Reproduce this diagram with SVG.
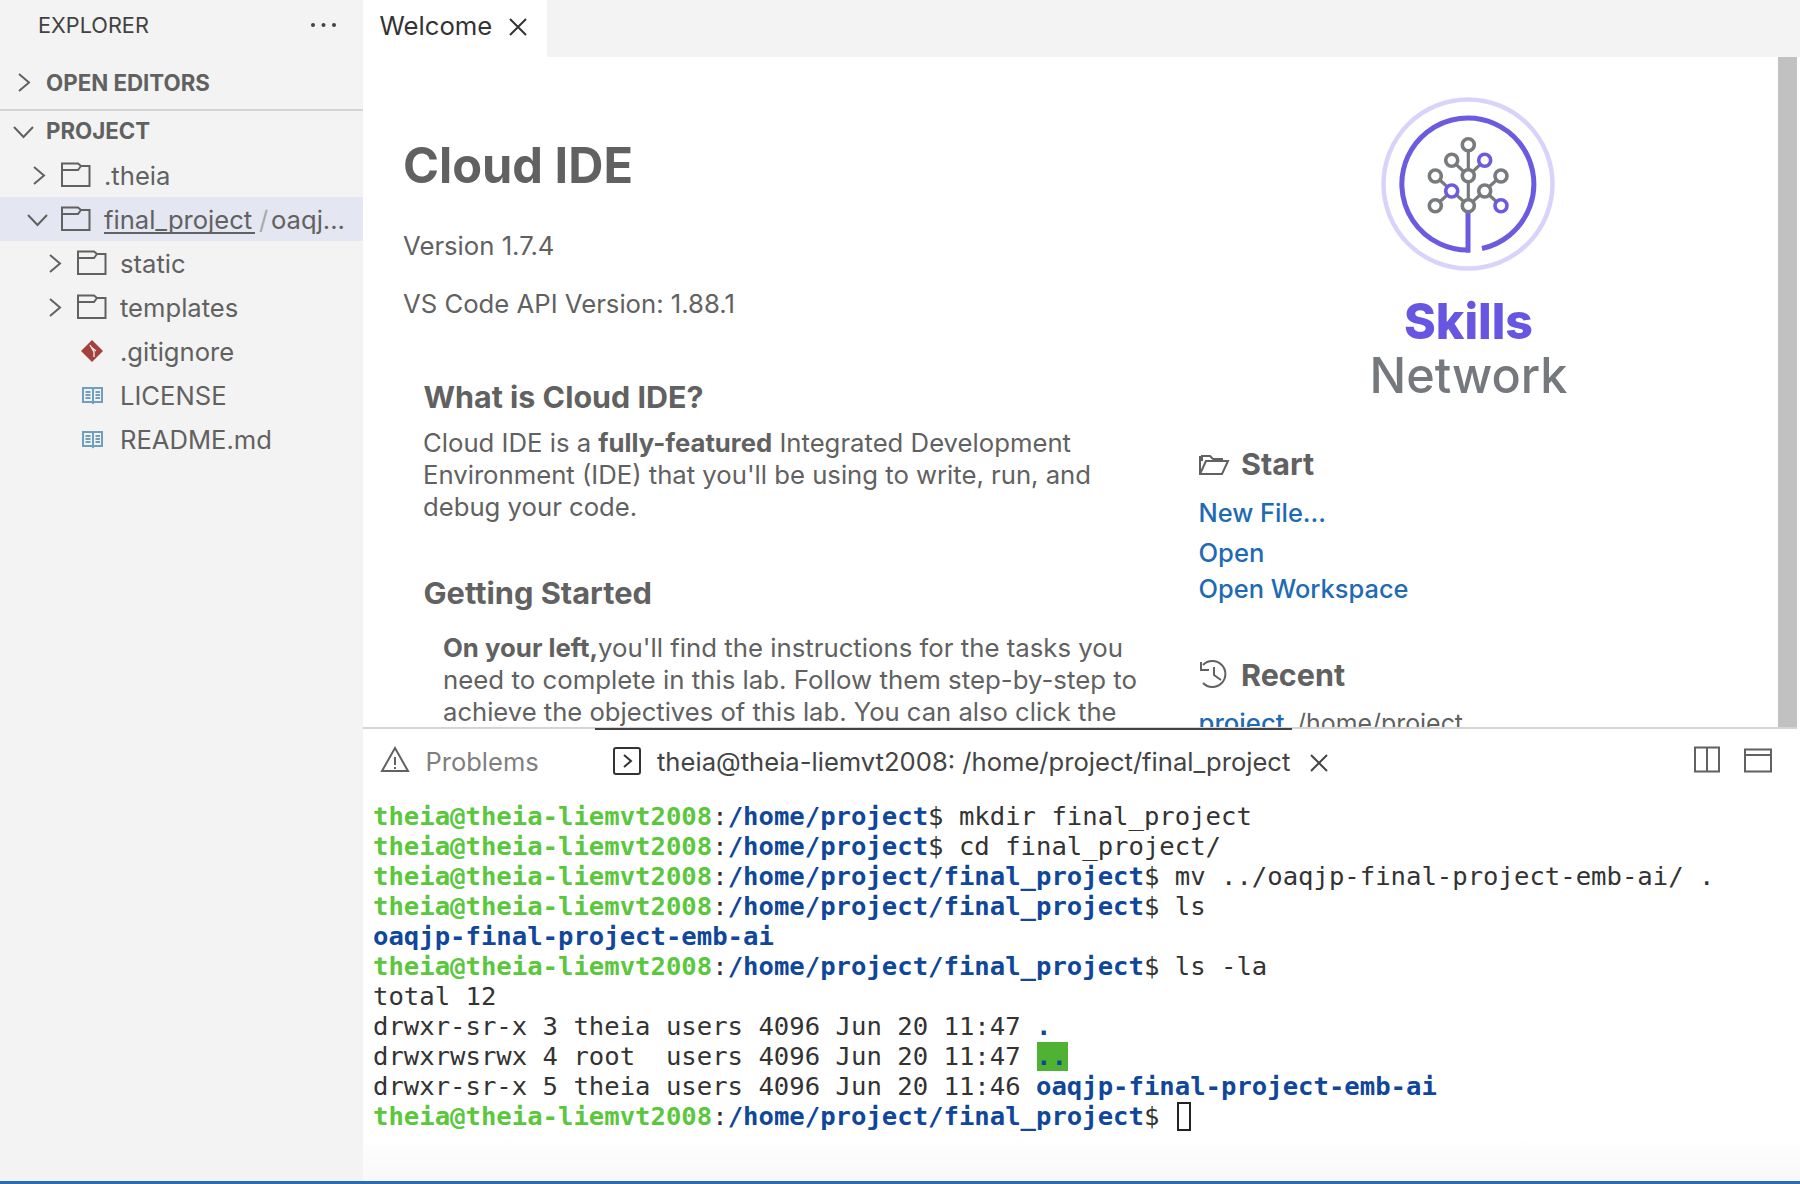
<svg xmlns="http://www.w3.org/2000/svg" width="1800" height="1184" viewBox="0 0 1800 1184">
<style>
text{font-family:"Inter","Liberation Sans",sans-serif;white-space:pre}
.side{font-size:25.6px;fill:#616161}
.sec{font-size:22.3px;font-weight:700;fill:#616161}
.ic{fill:none;stroke:#616161;stroke-width:2}
.body{font-size:25.7px;fill:#616161}
.h2{font-size:30px;font-weight:700;fill:#616161}
.h3{font-size:30.5px;font-weight:700;fill:#616161}
.lnk{font-size:25.6px;font-weight:500;fill:#1f6ab5}
.t{font-family:"DejaVu Sans Mono","Liberation Mono",monospace;font-size:25.62px;fill:#333}
.g{fill:#5ac73c;font-weight:700}
.b{fill:#10479b;font-weight:700}
.bk{fill:none;stroke:#6f9fbd;stroke-width:2}
.n{fill:#fff;stroke:#777b7e;stroke-width:3.6}
.p{fill:#fff;stroke:#6c5ae0;stroke-width:3.6}
</style>
<defs>
<path id="folder" d="M0 22.500V0H16L19 2.500H27.500V22.500ZM0 6.500H16L19 2.500" class="ic"/>
<path id="right" d="M0 0L10 8.500L0 17" class="ic"/>
<path id="down" d="M0 0L9.500 10L19 0" class="ic"/>
<g id="book">
<path class="bk" d="M1 1H10L11 2L12 1H20V15H12L11 16L10 15H1Z M11 2V15"/>
<path class="bk" stroke-width="1.500" d="M3.500 5H8.500M3.500 8H8.500M3.500 11H8.500M13.500 5H18M13.500 8H18M13.500 11H18"/>
</g>
<clipPath id="ed"><rect x="363" y="57" width="1437" height="670"/></clipPath>
<linearGradient id="pg" x1="0" y1="0" x2="0" y2="1"><stop offset="0.900" stop-color="#fff"/><stop offset="1" stop-color="#f8f8f8"/></linearGradient>
</defs>

<rect width="1800" height="1184" fill="#fff"/>

<g id="sidebar">
<rect width="363" height="1184" fill="#f3f3f3"/>
<text x="38" y="33" font-size="21.700" fill="#424242">EXPLORER</text>
<circle cx="313" cy="25" r="2" fill="#424242"/><circle cx="323.500" cy="25" r="2" fill="#424242"/><circle cx="334" cy="25" r="2" fill="#424242"/>
<use href="#right" x="19" y="74"/>
<text class="sec" x="46" y="91">OPEN EDITORS</text>
<rect y="109" width="363" height="2" fill="#d4d4d4"/>
<use href="#down" x="14" y="127"/>
<text class="sec" x="46" y="139">PROJECT</text>
<use href="#right" x="34" y="167"/>
<use href="#folder" x="62" y="163.500"/>
<text class="side" x="104" y="185">.theia</text>
<rect y="197" width="363" height="44" fill="#e4e6f1"/>
<use href="#down" x="28" y="215"/>
<use href="#folder" x="62" y="207.500"/>
<text class="side" x="104" y="229">final_project</text>
<rect x="104" y="232" width="151" height="2" fill="#616161"/>
<text x="259" y="229" font-size="25.600" fill="#a8a8a8">/</text>
<text class="side" x="271" y="229">oaqj...</text>
<use href="#right" x="50" y="255"/>
<use href="#folder" x="78" y="251.500"/>
<text class="side" x="120" y="273">static</text>
<use href="#right" x="50" y="299"/>
<use href="#folder" x="78" y="295.500"/>
<text class="side" x="120" y="317">templates</text>
<path d="M92 340L103 351L92 362L81 351Z" fill="#a4413f"/>
<path d="M90 345L94 352V357M91 347L96 351" fill="none" stroke="#f3f3f3" stroke-width="1.300"/>
<text class="side" x="120" y="361">.gitignore</text>
<use href="#book" x="82" y="387"/>
<text class="side" x="120" y="405">LICENSE</text>
<use href="#book" x="82" y="431"/>
<text class="side" x="120" y="449">README.md</text>
</g>

<g id="tabbar">
<rect x="363" width="1437" height="57" fill="#f3f3f3"/>
<rect x="363" width="184" height="57" fill="#fff"/>
<text x="379.500" y="35" font-size="25.700" fill="#333">Welcome</text>
<path d="M510 19L526 35M526 19L510 35" fill="none" stroke="#333" stroke-width="2"/>
</g>

<g id="editor" clip-path="url(#ed)">
<text x="403" y="182.500" font-size="49.500" font-weight="700" fill="#616161" textLength="230" lengthAdjust="spacingAndGlyphs">Cloud IDE</text>
<text class="body" x="403" y="255">Version 1.7.4</text>
<text class="body" x="403" y="313">VS Code API Version: 1.88.1</text>
<text class="h2" x="423.500" y="408" textLength="280" lengthAdjust="spacingAndGlyphs">What is Cloud IDE?</text>
<text class="body" x="423" y="452" textLength="648" lengthAdjust="spacingAndGlyphs">Cloud IDE is a <tspan font-weight="700">fully-featured</tspan> Integrated Development</text>
<text class="body" x="423" y="484" textLength="668" lengthAdjust="spacingAndGlyphs">Environment (IDE) that you'll be using to write, run, and</text>
<text class="body" x="423" y="516">debug your code.</text>
<text class="h2" x="423.500" y="604" textLength="228.500" lengthAdjust="spacingAndGlyphs">Getting Started</text>
<text class="body" x="443" y="657" textLength="680" lengthAdjust="spacingAndGlyphs"><tspan font-weight="700">On your left,</tspan>you'll find the instructions for the tasks you</text>
<text class="body" x="443" y="689" textLength="694" lengthAdjust="spacingAndGlyphs">need to complete in this lab. Follow them step-by-step to</text>
<text class="body" x="443" y="721" textLength="673.500" lengthAdjust="spacingAndGlyphs">achieve the objectives of this lab. You can also click the</text>
<path class="ic" d="M1200 456V474H1222L1228 461H1206L1200 474M1202 461V456H1210L1213 459H1222V461"/>
<text class="h3" x="1241" y="475">Start</text>
<text class="lnk" x="1198.500" y="522" textLength="127.500" lengthAdjust="spacingAndGlyphs">New File...</text>
<text class="lnk" x="1198.500" y="562">Open</text>
<text class="lnk" x="1198.500" y="598" textLength="210" lengthAdjust="spacingAndGlyphs">Open Workspace</text>
<path class="ic" d="M1203 665A13 13 0 1 1 1203 683M1201 662V670H1209M1214 667V675L1221 680"/>
<text class="h3" x="1241" y="685.500">Recent</text>
<text class="lnk" x="1198.500" y="732" textLength="86" lengthAdjust="spacingAndGlyphs">project</text>
<text class="body" x="1297" y="732" textLength="166" lengthAdjust="spacingAndGlyphs">/home/project</text>
<rect x="1778" y="57" width="19" height="670" fill="#c1c1c1"/>
</g>

<g id="logo">
<circle cx="1468" cy="184" r="84.500" fill="none" stroke="#d9d3fb" stroke-width="4.500"/>
<path d="M1482 248.500A66 66 0 1 0 1470 250" fill="none" stroke="#6c5ae0" stroke-width="5"/>
<path d="M1468 206V252.500" fill="none" stroke="#6c5ae0" stroke-width="5"/>
<path d="M1468.300 145V206M1451.700 160.300L1468.300 175.700L1484.700 160.300M1435.300 176L1468.300 205.700L1501 176M1435.300 205.700L1451.700 191M1484.700 191L1501 205.700" fill="none" stroke="#777b7e" stroke-width="3.200"/>
<circle class="n" cx="1468.300" cy="144.700" r="6"/>
<circle class="n" cx="1451.700" cy="160.300" r="6"/>
<circle class="p" cx="1484.700" cy="160.300" r="6"/>
<circle class="n" cx="1468.300" cy="175.700" r="6"/>
<circle class="n" cx="1435.300" cy="176" r="6"/>
<circle class="n" cx="1501" cy="176" r="6"/>
<circle class="p" cx="1451.700" cy="191" r="6"/>
<circle class="n" cx="1484.700" cy="191" r="6"/>
<circle class="n" cx="1435.300" cy="205.700" r="6"/>
<circle class="n" cx="1468.300" cy="205.700" r="6"/>
<circle class="p" cx="1501" cy="205.700" r="6"/>
<text x="1404" y="339" font-size="50" font-weight="800" fill="#6656e2" textLength="129" lengthAdjust="spacingAndGlyphs">Skills</text>
<text x="1369.500" y="393" font-size="50" font-weight="500" fill="#75787c" textLength="198" lengthAdjust="spacingAndGlyphs">Network</text>
</g>

<g id="panel">
<rect x="363" y="728" width="1437" height="453" fill="url(#pg)"/>
<rect x="363" y="727" width="1434" height="2" fill="#d4d4d4"/>
<rect x="595" y="728" width="697" height="2" fill="#424242"/>
<path class="ic" d="M395 748L408 771H382ZM395 757V765M395 767V769"/>
<text x="425.500" y="771" font-size="25.500" fill="#7f7f7f">Problems</text>
<rect x="614" y="748" width="26" height="26" rx="2" fill="none" stroke="#333" stroke-width="2"/>
<path d="M624 755L631 761L624 767" fill="none" stroke="#333" stroke-width="2"/>
<text x="657" y="771" font-size="25.600" fill="#444">theia@theia-liemvt2008: /home/project/final_project</text>
<path d="M1311 755L1327 771M1327 755L1311 771" fill="none" stroke="#444" stroke-width="2"/>
<path class="ic" d="M1695 747.500H1719V771.500H1695ZM1707 747.500V771.500"/>
<path class="ic" d="M1745 749.500H1771V771.500H1745ZM1745 755H1771"/>
<rect x="1037" y="1042" width="31" height="29" fill="#4fb233"/>
<rect x="1178" y="1103" width="12" height="27" fill="none" stroke="#222" stroke-width="2"/>
<text class="t" x="373" y="825"><tspan class="g">theia@theia-liemvt2008</tspan>:<tspan class="b">/home/project</tspan>$ mkdir final_project</text>
<text class="t" x="373" y="855"><tspan class="g">theia@theia-liemvt2008</tspan>:<tspan class="b">/home/project</tspan>$ cd final_project/</text>
<text class="t" x="373" y="885"><tspan class="g">theia@theia-liemvt2008</tspan>:<tspan class="b">/home/project/final_project</tspan>$ mv ../oaqjp-final-project-emb-ai/ .</text>
<text class="t" x="373" y="915"><tspan class="g">theia@theia-liemvt2008</tspan>:<tspan class="b">/home/project/final_project</tspan>$ ls</text>
<text class="t b" x="373" y="945">oaqjp-final-project-emb-ai</text>
<text class="t" x="373" y="975"><tspan class="g">theia@theia-liemvt2008</tspan>:<tspan class="b">/home/project/final_project</tspan>$ ls -la</text>
<text class="t" x="373" y="1005">total 12</text>
<text class="t" x="373" y="1035">drwxr-sr-x 3 theia users 4096 Jun 20 11:47 <tspan class="b">.</tspan></text>
<text class="t" x="373" y="1065">drwxrwsrwx 4 root  users 4096 Jun 20 11:47 <tspan class="b">..</tspan></text>
<text class="t" x="373" y="1095">drwxr-sr-x 5 theia users 4096 Jun 20 11:46 <tspan class="b">oaqjp-final-project-emb-ai</tspan></text>
<text class="t" x="373" y="1125"><tspan class="g">theia@theia-liemvt2008</tspan>:<tspan class="b">/home/project/final_project</tspan>$</text>
</g>
<rect id="statusbar" y="1181" width="1800" height="3" fill="#2b6cb0"/>
</svg>
